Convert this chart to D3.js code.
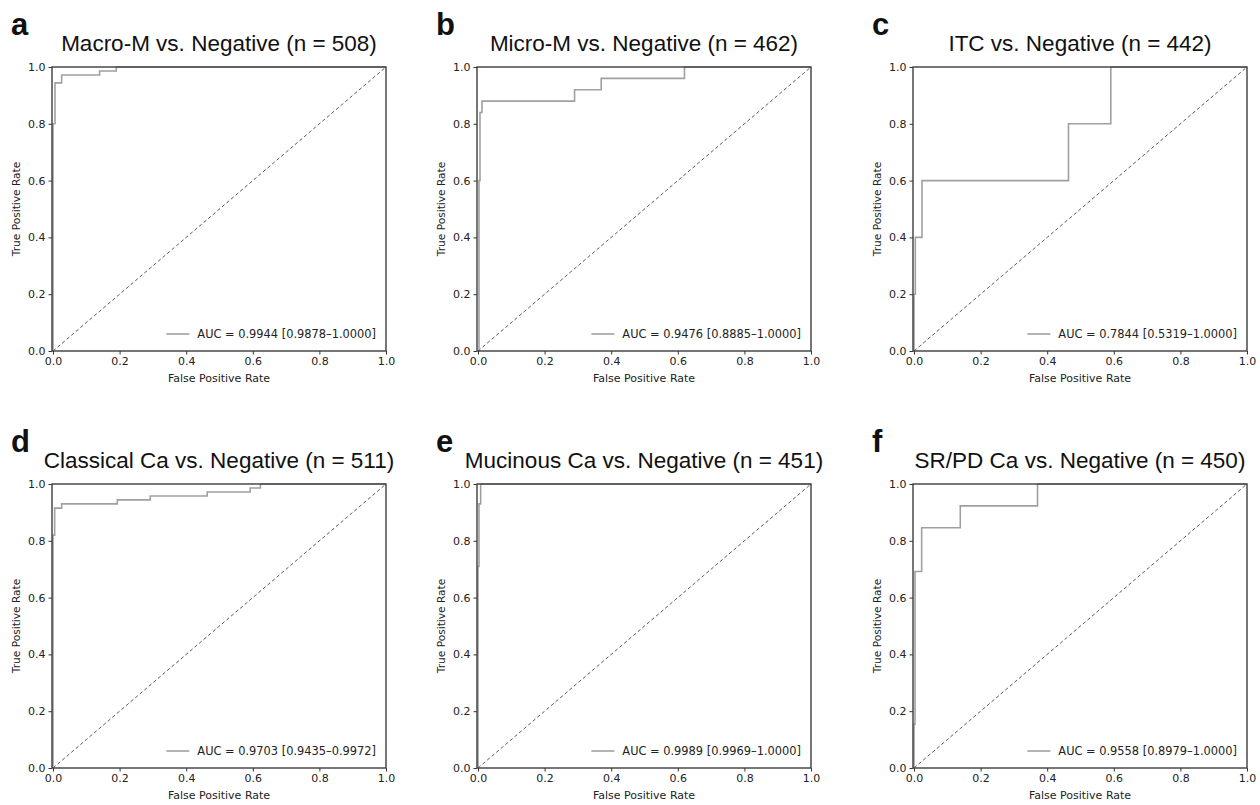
<!DOCTYPE html>
<html>
<head>
<meta charset="utf-8">
<script src="https://cdn.jsdelivr.net/npm/d3@7"></script>
<style>
  html, body { margin: 0; padding: 0; background: #fff; }
  svg { display: block; }
</style>
</head>
<body>
<svg id="chart" width="1260" height="805"></svg>
<script>
// ---------------- DATA ----------------
const panelLetters = ["a", "b", "c", "d", "e", "f"];
const panelTitles = [
  "Macro-M vs. Negative (n = 508)",
  "Micro-M vs. Negative (n = 462)",
  "ITC vs. Negative (n = 442)",
  "Classical Ca vs. Negative (n = 511)",
  "Mucinous Ca vs. Negative (n = 451)",
  "SR/PD Ca vs. Negative (n = 450)"
];
const aucLabels = [
  "AUC = 0.9944 [0.9878\u20131.0000]",
  "AUC = 0.9476 [0.8885\u20131.0000]",
  "AUC = 0.7844 [0.5319\u20131.0000]",
  "AUC = 0.9703 [0.9435\u20130.9972]",
  "AUC = 0.9989 [0.9969\u20131.0000]",
  "AUC = 0.9558 [0.8979\u20131.0000]"
];
const tickValues = [0, 0.2, 0.4, 0.6, 0.8, 1.0];
const xAxisLabel = "False Positive Rate";
const yAxisLabel = "True Positive Rate";

const fprMacro = [0, 0, 0.006, 0.006, 0.026, 0.026, 0.14, 0.14, 0.19, 0.19, 1];
const tprMacro = [0, 0.8, 0.8, 0.944, 0.944, 0.972, 0.972, 0.986, 0.986, 1, 1];

const fprMicro = [0, 0.003, 0.003, 0.006, 0.006, 0.012, 0.012, 0.29, 0.29, 0.37, 0.37, 0.62, 0.62, 1];
const tprMicro = [0, 0, 0.6, 0.6, 0.84, 0.84, 0.88, 0.88, 0.92, 0.92, 0.96, 0.96, 1, 1];

const fprITC = [0, 0, 0.004, 0.004, 0.024, 0.024, 0.464, 0.464, 0.591, 0.591, 1];
const tprITC = [0, 0.2, 0.2, 0.4, 0.4, 0.6, 0.6, 0.8, 0.8, 1, 1];

const fprClassical = [0, 0, 0.005, 0.005, 0.026, 0.026, 0.193, 0.193, 0.292, 0.292, 0.463, 0.463, 0.592, 0.592, 0.623, 0.623, 1];
const tprClassical = [0, 0.82, 0.82, 0.915, 0.915, 0.93, 0.93, 0.944, 0.944, 0.958, 0.958, 0.972, 0.972, 0.986, 0.986, 1, 1];

const fprMucinous = [0, 0, 0.003, 0.003, 0.008, 0.008, 1];
const tprMucinous = [0, 0.71, 0.71, 0.93, 0.93, 1, 1];

const fprSRPD = [0, 0, 0.003, 0.003, 0.023, 0.023, 0.139, 0.139, 0.371, 0.371, 1];
const tprSRPD = [0, 0.154, 0.154, 0.692, 0.692, 0.846, 0.846, 0.923, 0.923, 1, 1];

const fprSeries = [fprMacro, fprMicro, fprITC, fprClassical, fprMucinous, fprSRPD];
const tprSeries = [tprMacro, tprMicro, tprITC, tprClassical, tprMucinous, tprSRPD];

// ---------------- LAYOUT ----------------
const colLeft = [52, 477, 913];
const rowTop = [67, 484];
const plotW = 334;
const plotH = 284;

const svg = d3.select("#chart");
const tickFont = "'DejaVu Sans', Verdana, sans-serif";
const titleFont = "'Liberation Sans', Arial, Helvetica, sans-serif";

panelTitles.forEach((title, i) => {
  const col = i % 3, row = Math.floor(i / 3);
  const left = colLeft[col], top = rowTop[row];
  const g = svg.append("g").attr("transform", `translate(${left},${top})`);

  const x = d3.scaleLinear().domain([-0.003, 1.0]).range([0, plotW]);
  const y = d3.scaleLinear().domain([0, 1.0]).range([plotH, 0]);

  // diagonal reference
  g.append("line")
    .attr("x1", x(0)).attr("y1", y(0))
    .attr("x2", x(1)).attr("y2", y(1))
    .attr("stroke", "#4a4a4a").attr("stroke-width", 0.9)
    .attr("stroke-dasharray", "3.5,2.5");

  // ROC curve
  const pts = fprSeries[i].map((f, k) => [f, tprSeries[i][k]]);
  const line = d3.line().x(d => x(d[0])).y(d => y(d[1]));
  g.append("path")
    .attr("d", line(pts))
    .attr("fill", "none")
    .attr("stroke", "#a0a0a0")
    .attr("stroke-width", 1.6);

  // axes
  const xAxis = d3.axisBottom(x).tickValues(tickValues)
    .tickFormat(d3.format(".1f")).tickSize(3.5).tickPadding(3);
  const yAxis = d3.axisLeft(y).tickValues(tickValues)
    .tickFormat(d3.format(".1f")).tickSize(3.5).tickPadding(3);

  const gx = g.append("g").attr("transform", `translate(0,${plotH})`).call(xAxis);
  const gy = g.append("g").call(yAxis);
  [gx, gy].forEach(a => {
    a.select(".domain").remove();
    a.selectAll(".tick line").attr("stroke", "#333").attr("stroke-width", 1);
    a.selectAll(".tick text")
      .attr("fill", "#222")
      .style("font-family", tickFont)
      .style("font-size", "11px");
  });

  // spines
  g.append("rect")
    .attr("x", 0).attr("y", 0).attr("width", plotW).attr("height", plotH)
    .attr("fill", "none").attr("stroke", "#3d3d3d").attr("stroke-width", 1.4);

  // axis labels
  g.append("text")
    .attr("x", plotW / 2).attr("y", plotH + 31)
    .attr("text-anchor", "middle")
    .attr("fill", "#222")
    .style("font-family", tickFont).style("font-size", "11px")
    .text(xAxisLabel);
  g.append("text")
    .attr("transform", `translate(${-32},${plotH / 2}) rotate(-90)`)
    .attr("text-anchor", "middle")
    .attr("fill", "#222")
    .style("font-family", tickFont).style("font-size", "10.6px")
    .text(yAxisLabel);

  // legend
  const legY = plotH - 17;
  const lt = g.append("text")
    .attr("x", plotW - 10).attr("y", legY + 4)
    .attr("text-anchor", "end")
    .attr("fill", "#222")
    .style("font-family", tickFont).style("font-size", "11.4px")
    .text(aucLabels[i]);
  const tw = lt.node().getComputedTextLength();
  const ts = plotW - 10 - tw;
  g.append("line")
    .attr("x1", ts - 31).attr("x2", ts - 8)
    .attr("y1", legY).attr("y2", legY)
    .attr("stroke", "#a0a0a0").attr("stroke-width", 1.6);

  // title
  g.append("text")
    .attr("x", plotW / 2).attr("y", -16)
    .attr("text-anchor", "middle")
    .attr("fill", "#111")
    .style("font-family", titleFont).style("font-size", "22.5px")
    .text(title);

  // panel letter
  svg.append("text")
    .attr("x", left - 41).attr("y", top - 32)
    .attr("fill", "#111")
    .style("font-family", titleFont).style("font-size", "31px")
    .style("font-weight", "bold")
    .text(panelLetters[i]);
});
</script>
</body>
</html>
